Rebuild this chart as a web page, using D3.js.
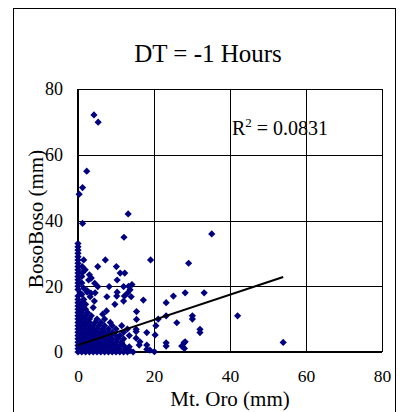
<!DOCTYPE html>
<html lang="en">
<head>
    <meta charset="UTF-8">
    <title>DT = -1 Hours</title>
    <script src="https://cdn.jsdelivr.net/npm/d3@7/dist/d3.min.js"></script>
</head>
<body>
<style>
    body {
        margin: 0;
        background-color: white;
    }

    svg text {
        font-family: "Times New Roman", "Liberation Serif", serif;
        fill: black;
    }

    .axis path {
        display: none;
    }

    .axis line {
        stroke: black;
        shape-rendering: crispEdges;
    }
</style>

<svg width="403" height="412"></svg>

<script>
    // ticks of both axes (mm)
    var xTicks = [0, 20, 40, 60, 80];
    var yTicks = [0, 20, 40, 60, 80];

    // scattered points, [Mt. Oro, BosoBoso] in mm
    var outerPoints = [
        [4.2, 72.1], [5.3, 69.9], [2.3, 55], [1.2, 50], [0.3, 48], [1.2, 39.1],
        [13.2, 42], [12.1, 34.9], [19.1, 28], [35.2, 35.9], [29.1, 27], [42, 11], [54, 2.9],
        [7.2, 28], [5.2, 26], [10.1, 26], [11.1, 24], [12.3, 24], [10.3, 21.9], [2.8, 21.9],
        [1.9, 25], [1.1, 26], [1.5, 28], [4.4, 20.9], [5.2, 19.9], [8.2, 19.9], [12, 19.9],
        [13.3, 20], [14.2, 20.5], [1.5, 19.4], [2.4, 18.7], [3.5, 22.5], [3, 23.5],
        [17.2, 15.8], [23.2, 15], [25.1, 17], [28.2, 18], [33.2, 18], [23.2, 11], [21.1, 10],
        [30.1, 11], [30.1, 10], [26, 8.9], [32.1, 6.9], [32.1, 5.9], [20.5, 8], [18.1, 5.9],
        [20.3, 5.2], [23.2, 2.8], [23.2, 1.8], [27.3, 1.8], [28.2, 3.1], [28, 1.1], [16.1, 2.1],
        [18.1, 2.1], [18.1, 0.8], [18.9, 0.6], [20.1, 0.1], [15.4, 9.9], [15.4, 12.3], [27.9, 2.8],
        [15.3, 6.9], [15.3, 6.2], [15.3, 4.2], [13.7, 18.9], [13, 17.9], [10.2, 17], [12.2, 17],
        [14, 16.8], [4.5, 18], [3.4, 17.9], [13.5, 1.6], [13.7, 0.4], [16.3, 3.1]
    ];

    // dense cluster near the origin, [Mt. Oro, BosoBoso] in mm
    var corePoints = [
        [0, 0], [1, 0], [2, 0], [3, 0], [4, 0], [5, 0], [6, 0], [7, 0], [8, 0], [9, 0], [10, 0], [11, 0], [12, 0], [13, 0], [14.5, 0],
        [0, 1], [1, 1], [2, 1], [3, 1], [4, 1], [5, 1], [6, 1], [7, 1], [8, 1], [9, 1], [10, 1], [11, 1], [12.5, 1],
        [0, 2], [1, 2], [2, 2], [3, 2], [4, 2], [5, 2], [6, 2], [7, 2], [8, 2], [9, 2], [10, 2], [11, 2], [12, 2],
        [0, 3], [1, 3], [2, 3], [3, 3], [4, 3], [5, 3], [6, 3], [7, 3], [8, 3], [9, 3], [10, 3], [11.5, 3],
        [0, 4], [1, 4], [2, 4], [3, 4], [4, 4], [5, 4], [6, 4], [7, 4], [8, 4], [9, 4], [10.5, 4], [12, 4],
        [0, 5], [1, 5], [2, 5], [3, 5], [4, 5], [5, 5], [6, 5], [7, 5], [8.5, 5], [10, 5], [11, 5], [13.5, 5],
        [0, 6], [1, 6], [2, 6], [3, 6], [4, 6], [5, 6], [6, 6], [7, 6], [8, 6], [9, 6], [12, 6],
        [0, 7], [1, 7], [2, 7], [3, 7], [4, 7], [5, 7], [6.5, 7], [8, 7], [10, 7], [13, 7],
        [0, 8], [1, 8], [2, 8], [3, 8], [4, 8], [5.5, 8], [7, 8], [9, 8], [11.5, 8],
        [0, 9], [1, 9], [2, 9], [3, 9], [4.5, 9], [6, 9], [8.5, 9],
        [0, 10], [1, 10], [2, 10], [3, 10], [5, 10], [7, 10],
        [0, 11], [1, 11], [2, 11], [3.5, 11], [6.5, 11.5],
        [0, 12], [1, 12], [2.5, 12], [7.5, 12.5],
        [0, 13], [1, 13], [2, 13], [4, 13.5],
        [0, 14], [1, 14], [2, 14.5], [9.7, 14.5],
        [0, 15], [1, 15], [4.3, 15.5], [12, 15.5],
        [0, 16], [1.5, 16], [3.2, 16.8], [7.6, 16.8],
        [0, 17], [1, 17.5], [0.5, 18], [2.4, 18.2], [10.3, 18.2],
        [0, 19], [0, 20], [0, 21], [0, 22], [0, 23], [0, 24], [0, 25], [0, 26], [0, 27],
        [0, 28], [0, 29], [0, 30], [0, 31], [0, 32], [0, 33],
        [1, 21], [1, 23], [1.2, 24.2]
    ];

    // linear trend line, read from its two ends
    var trendLine = [[0, 2.1], [54, 22.8]];
    var rSquared = "0.0831";

    var svg = d3.select("svg");
    var plotLeft = 78, plotRight = 382, plotTop = 89, plotBottom = 352;

    var getX = d3.scaleLinear().domain([0, 80]).range([plotLeft, plotRight]);
    var getY = d3.scaleLinear().domain([0, 80]).range([plotBottom, plotTop]);

    // outer frame
    svg.append("rect")
        .attr("x", 13.5).attr("y", 8.5)
        .attr("width", 382).attr("height", 420)
        .attr("fill", "none")
        .attr("stroke", "black");

    // title
    svg.append("text")
        .attr("x", 208).attr("y", 62)
        .attr("text-anchor", "middle")
        .style("font-size", "25px")
        .text("DT = -1 Hours");

    // gridlines + tick labels
    svg.append("g")
        .attr("class", "axis")
        .attr("transform", "translate(0," + plotBottom + ")")
        .call(d3.axisBottom(getX).tickValues(xTicks).tickSizeInner(-(plotBottom - plotTop)).tickSizeOuter(0).tickPadding(18))
        .selectAll("text").style("font-size", "17.5px");
    svg.append("g")
        .attr("class", "axis")
        .attr("transform", "translate(" + plotLeft + ",0)")
        .call(d3.axisLeft(getY).tickValues(yTicks).tickSizeInner(-(plotRight - plotLeft)).tickSizeOuter(0).tickPadding(15))
        .selectAll("text").style("font-size", "18px");

    // axis lines a bit heavier
    svg.append("line")
        .attr("x1", plotLeft).attr("x2", plotLeft).attr("y1", plotTop).attr("y2", plotBottom + 1)
        .attr("stroke", "black").attr("stroke-width", 2);
    svg.append("line")
        .attr("x1", plotLeft).attr("x2", plotRight).attr("y1", plotBottom).attr("y2", plotBottom)
        .attr("stroke", "black").attr("stroke-width", 2);

    // axis titles
    svg.append("text")
        .attr("x", 230).attr("y", 406)
        .attr("text-anchor", "middle")
        .style("font-size", "21px")
        .text("Mt. Oro (mm)");
    svg.append("text")
        .attr("transform", "translate(43,219) rotate(-90)")
        .attr("text-anchor", "middle")
        .style("font-size", "21px")
        .text("BosoBoso (mm)");

    // points
    var diamond = d3.symbol().type(d3.symbolSquare).size(26);
    svg.selectAll(".dot")
        .data(outerPoints.concat(corePoints))
        .enter()
        .append("path")
        .attr("class", "dot")
        .attr("d", diamond)
        .attr("transform", function (d) {
            return "translate(" + getX(d[0]) + "," + getY(d[1]) + ") rotate(45)";
        })
        .attr("fill", "#000080");

    // trend line
    svg.append("line")
        .attr("x1", getX(trendLine[0][0])).attr("y1", getY(trendLine[0][1]))
        .attr("x2", getX(trendLine[1][0])).attr("y2", getY(trendLine[1][1]))
        .attr("stroke", "black")
        .attr("stroke-width", 2);

    // R squared label
    var r2 = svg.append("text")
        .attr("x", 232).attr("y", 135)
        .style("font-size", "20px");
    r2.append("tspan").text("R");
    r2.append("tspan").attr("dy", -8).style("font-size", "13px").text("2");
    r2.append("tspan").attr("dy", 8).text(" = " + rSquared);
</script>
</body>
</html>
